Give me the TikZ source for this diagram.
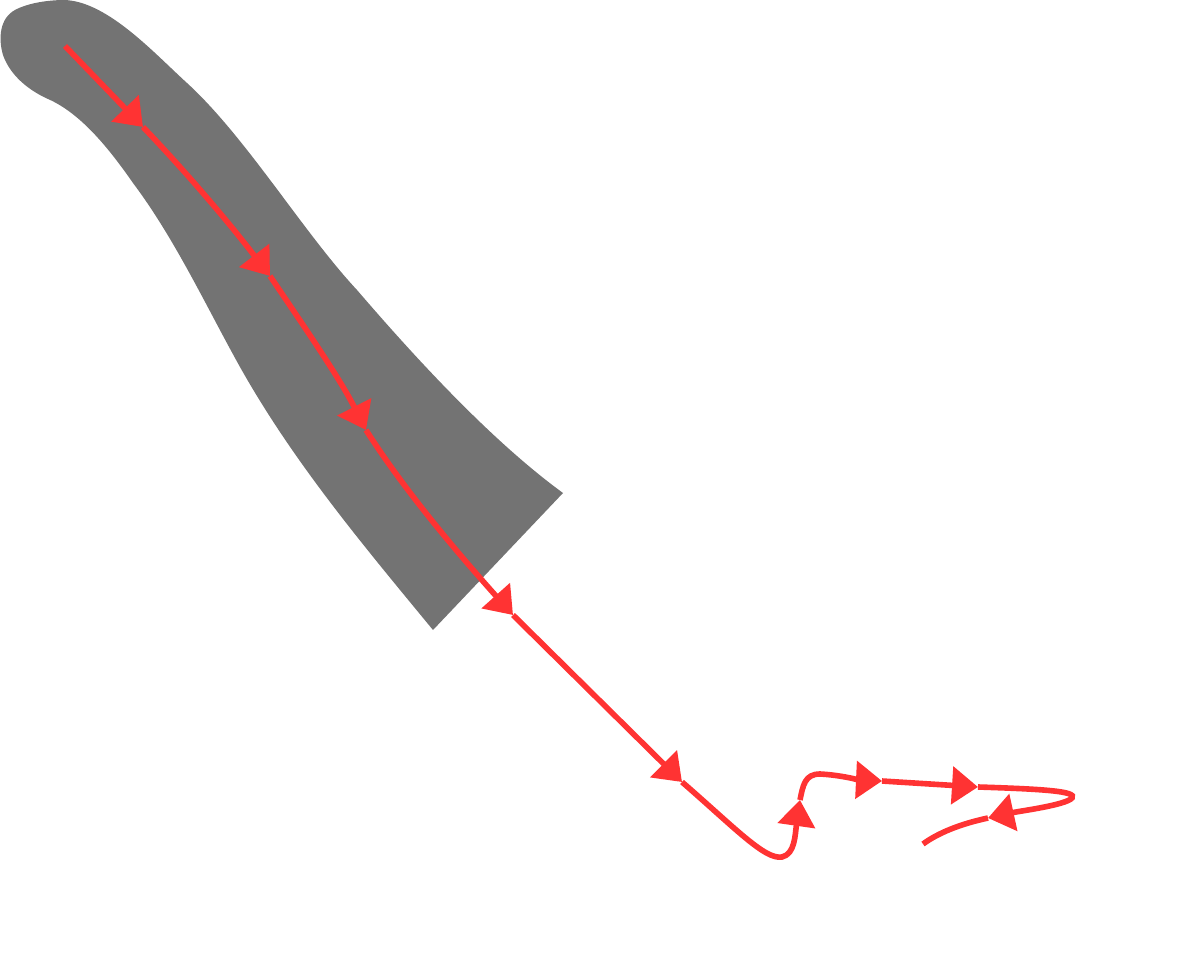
\documentclass[tikz,border=0pt]{standalone}
\usepackage{xcolor}
\usepackage{tikz}
\usetikzlibrary{arrows.meta}
\definecolor{bandgray}{RGB}{115,115,115}
\definecolor{trajred}{RGB}{255,51,51}

\begin{document}
\begin{tikzpicture}[
    x=0.02cm, y=-0.02cm,
    band/.style={fill=bandgray,draw=none},
    trajline/.style={draw=trajred,line width=3.2pt},
    trajseg/.style={trajline,-{Triangle[length=0.52cm,width=0.74cm]}},
]
\useasboundingbox (0,0) rectangle (1186,959);

% ---- gray band ----
\fill[band] (563,493)
  .. controls (500,447) and (430,375) .. (357,290)
  .. controls (303,232) and (246,137) .. (187,83)
  .. controls (154,53) and (108,2) .. (65,0)
  .. controls (48,0) and (28,3) .. (15,10)
  .. controls (0,18) and (-2,38) .. (3,55)
  .. controls (10,75) and (28,90) .. (48,99)
  .. controls (80,113) and (108,147) .. (133,183)
  .. controls (175,239) and (206,306) .. (240,367)
  .. controls (294,463) and (363,545) .. (433,630)
  -- cycle;

% ---- trajectory points (arrow tips) ----
\coordinate (s0) at (65,46);
\coordinate (a1) at (143,127);
\coordinate (a2) at (270,276);
\coordinate (a3) at (366,430);
\coordinate (a4) at (513,615);
\coordinate (a5) at (682,782);
\coordinate (a6) at (800,800);
\coordinate (a7) at (882,781);
\coordinate (a8) at (978,787);
\coordinate (a9) at (988,818);
\coordinate (e0) at (923,844);

% ---- trajectory ----
\draw[trajseg] (s0) -- (a1);
\draw[trajseg] (a1) .. controls (188,174) and (230,224) .. (a2);
\draw[trajseg] (a2) .. controls (303,325) and (339,377) .. (a3);
\draw[trajseg] (a3) .. controls (406,493) and (463,559) .. (a4);
\draw[trajseg] (a4) -- (a5);
\draw[trajseg] (a5) .. controls (735,828) and (765,860) .. (782,857)
                    .. controls (795,854) and (795,835) .. (a6);
\draw[trajseg] (a6) .. controls (803,785) and (805,774) .. (820,774)
                    .. controls (840,775) and (860,780) .. (a7);
\draw[trajseg] (a7) -- (a8);
\draw[trajseg] (a8) .. controls (1040,789) and (1078,791) .. (1072,798)
                    .. controls (1066,805) and (1020,811) .. (a9);
\draw[trajline] (a9) .. controls (960,824) and (938,833) .. (e0);

\end{tikzpicture}
\end{document}
